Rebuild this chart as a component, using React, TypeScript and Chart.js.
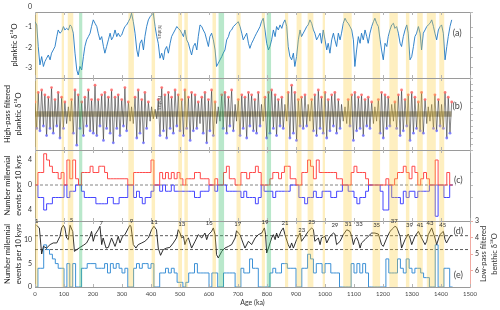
import React, { useEffect, useRef } from 'react';
import Chart from 'chart.js/auto';

const FONT = 'Lato, "Open Sans", "DejaVu Sans", sans-serif';

// ---------- Panel (a): planktic d18O, and panel (b) high-pass (same age grid) ----------
const planktAges = [
  0, 6, 11, 17, 23, 29, 34, 40, 46, 52,
  57, 63, 69, 75, 80, 86, 92, 98, 103, 109,
  115, 121, 126, 132, 138, 144, 149, 155, 161, 167,
  172, 178, 184, 190, 195, 201, 207, 213, 218, 224,
  230, 236, 241, 247, 253, 259, 264, 270, 276, 282,
  287, 293, 299, 305, 310, 316, 322, 328, 333, 339,
  345, 351, 356, 362, 368, 374, 379, 385, 391, 397,
  402, 408, 414, 420, 425, 431, 437, 443, 448, 454,
  460, 466, 471, 477, 483, 489, 494, 500, 506, 512,
  517, 523, 529, 535, 540, 546, 552, 558, 563, 569,
  575, 580, 586, 592, 598, 603, 609, 615, 621, 626,
  632, 638, 644, 649, 655, 661, 667, 672, 678, 684,
  690, 695, 701, 707, 713, 718, 724, 730, 736, 741,
  747, 753, 758, 764, 770, 776, 781, 787, 793, 799,
  805, 810, 816, 822, 828, 833, 839, 845, 851, 856,
  862, 868, 873, 879, 885, 891, 896, 902, 908, 914,
  919, 925, 931, 937, 942, 948, 954, 960, 965, 971,
  977, 983, 988, 994, 1000, 1006, 1011, 1017, 1023, 1029,
  1034, 1040, 1046, 1052, 1057, 1063, 1069, 1075, 1080, 1086,
  1092, 1098, 1103, 1109, 1115, 1121, 1126, 1132, 1138, 1144,
  1149, 1155, 1161, 1167, 1172, 1178, 1184, 1190, 1195, 1201,
  1207, 1213, 1218, 1224, 1230, 1236, 1241, 1247, 1253, 1259,
  1264, 1270, 1276, 1282, 1287, 1293, 1299, 1305, 1310, 1316,
  1322, 1328, 1333, 1339, 1345, 1351, 1356, 1362, 1368, 1374,
  1379, 1385, 1391, 1397, 1402, 1408, 1414, 1420, 1425, 1431,
  1437,
];

const planktValues = [
  -0.73, -0.89, -1.96, -2.87, -2.46, -2.95, -2.71, -2.54, -2.38, -2.62,
  -2.29, -2.13, -1.96, -1.47, -1.14, -1.30, -1.22, -0.97, -1.14, -1.06,
  -1.14, -0.89, -0.97, -1.30, -2.29, -3.12, -3.37, -2.95, -3.12, -2.46,
  -1.96, -1.63, -1.47, -1.30, -0.97, -0.64, -0.81, -0.97, -1.30, -1.63,
  -1.47, -1.96, -2.29, -1.96, -1.63, -1.30, -1.63, -1.47, -1.14, -1.47,
  -1.30, -1.47, -1.39, -1.14, -0.97, -0.89, -0.73, -0.56, -0.31, -0.73,
  -1.30, -2.13, -2.46, -1.80, -1.63, -2.13, -1.47, -0.97, -0.64, -0.48,
  -0.40, -0.31, -0.97, -1.47, -1.80, -2.54, -2.29, -2.62, -2.13, -1.96,
  -2.29, -1.80, -1.47, -1.30, -1.14, -0.97, -1.06, -1.14, -1.30, -1.47,
  -1.14, -1.63, -1.80, -2.13, -2.38, -1.96, -1.80, -2.13, -1.47, -0.89,
  -0.97, -1.14, -1.30, -1.63, -1.96, -1.47, -1.30, -1.63, -2.13, -2.95,
  -2.79, -2.62, -2.46, -2.29, -2.13, -1.63, -1.47, -1.22, -1.14, -0.97,
  -0.89, -0.81, -0.73, -0.97, -1.30, -1.63, -1.47, -1.30, -1.80, -2.05,
  -1.80, -1.63, -1.47, -1.30, -1.14, -0.97, -0.73, -0.56, -1.14, -1.80,
  -2.13, -1.96, -1.63, -1.14, -1.47, -0.97, -1.14, -0.89, -1.06, -0.81,
  -0.64, -0.97, -1.96, -2.46, -2.62, -2.29, -2.95, -2.46, -1.63, -1.14,
  -1.47, -1.30, -1.14, -0.97, -0.89, -0.64, -0.81, -1.14, -1.30, -1.63,
  -1.47, -1.30, -1.80, -1.14, -1.63, -2.13, -1.80, -2.29, -1.63, -1.30,
  -1.63, -1.96, -1.30, -1.63, -1.30, -0.81, -0.56, -0.73, -0.81, -0.97,
  -1.14, -1.63, -2.95, -2.13, -1.47, -1.80, -1.30, -1.63, -1.14, -1.47,
  -1.80, -1.30, -0.97, -0.73, -0.56, -0.81, -0.97, -1.63, -2.13, -2.62,
  -1.80, -1.96, -1.47, -1.14, -0.89, -0.81, -1.06, -0.97, -1.30, -1.80,
  -1.96, -1.47, -1.14, -0.89, -1.30, -2.62, -2.46, -1.96, -1.47, -1.30,
  -0.97, -1.30, -2.13, -1.30, -1.14, -0.97, -0.89, -0.81, -0.64, -0.97,
  -1.30, -1.63, -1.14, -0.97, -0.89, -1.30, -2.62, -1.96, -1.47, -0.97,
  -0.64,
];

const hpValues = [
  0.5, -0.6, 0.9, -0.7, 1.0, -0.5, 0.8, -0.9, 0.7, -0.6,
  1.1, -0.8, 0.6, -0.5, 0.9, -1.0, 0.7, -0.6, 0.5, -0.4,
  0.3, -0.3, 0.6, -0.8, 1.0, -1.3, 0.8, -0.6, 0.5, -0.9,
  0.7, -0.5, 1.0, -0.7, 0.6, -0.8, 1.2, -0.9, 0.6, -0.5,
  0.8, -1.1, 0.9, -0.6, 0.7, -0.8, 1.0, -1.2, 0.7, -0.6,
  0.8, -0.9, 0.6, -0.5, 1.1, -0.7, 0.5, -0.3, 0.3, -0.4,
  0.7, -1.0, 1.0, -0.8, 0.6, -1.2, 0.9, -0.6, 0.5, -0.3,
  0.3, -0.2, 0.2, -0.2, 0.6, -0.9, 1.1, -0.7, 0.8, -1.0,
  0.9, -0.6, 0.7, -0.8, 1.0, -0.5, 0.8, -0.7, 0.6, -0.9,
  1.0, -0.6, 0.7, -1.1, 0.9, -0.7, 0.8, -0.6, 0.5, -0.4,
  0.7, -0.8, 0.9, -1.2, 0.6, -0.7, 1.0, -0.9, 0.5, -0.4,
  0.3, -0.3, 0.8, -0.6, 0.9, -0.8, 0.7, -0.5, 1.0, -0.7,
  0.4, -0.3, 0.6, -0.9, 0.8, -0.6, 0.7, -1.0, 0.9, -0.5,
  0.8, -0.7, 0.6, -0.8, 0.9, -0.5, 0.4, -0.3, 0.7, -1.0,
  0.9, -0.8, 1.0, -0.6, 0.8, -0.9, 0.6, -0.5, 0.7, -0.6,
  0.4, -0.3, 0.9, -1.0, 1.2, -0.8, 0.9, -1.1, 0.6, -0.5,
  0.7, -0.6, 0.8, -0.5, 0.4, -0.3, 0.6, -0.7, 0.8, -0.9,
  1.0, -0.6, 0.7, -0.8, 0.9, -1.0, 0.6, -0.7, 0.8, -0.5,
  0.9, -0.8, 0.6, -0.6, 0.4, -0.3, 0.3, -0.4, 0.6, -0.5,
  0.8, -1.1, 0.9, -0.7, 0.7, -0.6, 0.8, -0.9, 0.6, -0.5,
  0.7, -0.6, 0.5, -0.4, 0.3, -0.3, 0.6, -0.8, 0.9, -1.0,
  0.8, -0.6, 0.7, -0.5, 0.4, -0.3, 0.5, -0.6, 0.8, -0.9,
  1.0, -0.7, 0.6, -0.5, 0.8, -1.1, 0.9, -0.8, 0.7, -0.6,
  0.5, -0.7, 0.9, -0.8, 0.6, -0.4, 0.3, -0.3, 0.4, -0.6,
  0.8, -0.7, 0.6, -0.5, 0.4, -0.6, 0.9, -1.0, 0.7, -0.8,
  0.5,
];
const hpEventThreshold = 0.5;
const hpNoiseBandEdges = [0.11, -0.11];
const hpBandAges = [0, 1437];

// ---------- Panels (c) and (e): counts per 10-kyr bin ----------
const binAges = [
  0, 10, 20, 30, 40, 50, 60, 70, 80, 90,
  100, 110, 120, 130, 140, 150, 160, 170, 180, 190,
  200, 210, 220, 230, 240, 250, 260, 270, 280, 290,
  300, 310, 320, 330, 340, 350, 360, 370, 380, 390,
  400, 410, 420, 430, 440, 450, 460, 470, 480, 490,
  500, 510, 520, 530, 540, 550, 560, 570, 580, 590,
  600, 610, 620, 630, 640, 650, 660, 670, 680, 690,
  700, 710, 720, 730, 740, 750, 760, 770, 780, 790,
  800, 810, 820, 830, 840, 850, 860, 870, 880, 890,
  900, 910, 920, 930, 940, 950, 960, 970, 980, 990,
  1000, 1010, 1020, 1030, 1040, 1050, 1060, 1070, 1080, 1090,
  1100, 1110, 1120, 1130, 1140, 1150, 1160, 1170, 1180, 1190,
  1200, 1210, 1220, 1230, 1240, 1250, 1260, 1270, 1280, 1290,
  1300, 1310, 1320, 1330, 1340, 1350, 1360, 1370, 1380, 1390,
  1400, 1410, 1420, 1430,
];
const binEnd = 1440;

const warmEvents = [
  0, 2, 2, 5, 4, 3, 2, 2, 1, 2,
  0, 4, 1, 4, 1, 0, 2, 2, 2, 3,
  2, 2, 3, 3, 2, 1, 1, 1, 1, 1,
  1, 1, 0, 0, 2, 2, 2, 2, 2, 2,
  4, 0, 0, 2, 1, 2, 1, 2, 1, 2,
  1, 0, 1, 1, 1, 2, 2, 1, 1, 1,
  0, 0, 1, 0, 0, 2, 3, 1, 1, 0,
  0, 2, 2, 1, 2, 2, 3, 2, 0, 0,
  0, 1, 2, 2, 1, 2, 3, 3, 1, 1,
  0, 0, 2, 2, 4, 3, 1, 4, 2, 2,
  2, 2, 2, 2, 1, 1, 0, 0, 0, 2,
  3, 2, 2, 2, 1, 0, 0, 0, 0, 0,
  0, 1, 0, 0, 1, 2, 2, 3, 2, 1,
  3, 2, 0, 1, 2, 1, 0, 0, 4, 0,
  0, 0, 2, 0,
];

const coldEvents = [
  0, -2, -2, -4, -3, -3, -2, -2, -2, -2,
  0, -2, -1, -1, 0, 0, -1, -2, -2, -2,
  -2, -3, -3, -3, -3, -2, -2, -3, -3, -2,
  -2, -2, 0, 0, -2, -1, -2, -3, -2, -2,
  -1, 0, 0, -1, 0, -1, -1, 0, -1, -1,
  -1, -1, -1, -1, -1, -2, -2, -1, -1, -1,
  0, 0, -1, 0, 0, 0, -1, -1, -1, -1,
  -1, -2, -1, -2, -2, -2, -3, -2, 0, -1,
  -1, -1, -2, -1, -1, -1, -1, -1, 0, 0,
  0, -2, -2, -3, -2, -2, -1, -2, -2, -1,
  -1, -1, -2, -2, -1, -1, 0, 0, -1, -1,
  -2, -3, -2, -2, -1, 0, 0, 0, 0, -1,
  -4, -4, 0, -2, -2, -2, -3, -1, -2, -1,
  -1, -2, -1, -1, -1, -1, 0, 0, -5, 0,
  0, -2, -2, 0,
];

const totalEvents = [
  0, 4, 4, 9, 8, 7, 6, 5, 4, 4,
  0, 5, 0, 5, 0, 0, 4, 4, 5, 5,
  5, 4, 4, 4, 5, 3, 5, 4, 5, 4,
  3, 4, 0, 0, 4, 5, 4, 5, 5, 4,
  5, 0, 0, 3, 3, 4, 3, 4, 3, 1,
  1, 0, 1, 3, 3, 5, 3, 3, 3, 3,
  0, 3, 3, 0, 0, 3, 3, 3, 3, 0,
  0, 4, 3, 3, 6, 4, 4, 0, 0, 0,
  0, 3, 4, 3, 3, 5, 5, 4, 4, 4,
  0, 0, 4, 4, 7, 6, 3, 5, 5, 3,
  5, 5, 3, 3, 3, 0, 0, 0, 0, 5,
  3, 5, 3, 5, 3, 0, 0, 0, 0, 0,
  0, 6, 3, 3, 3, 6, 4, 3, 6, 4,
  3, 4, 4, 3, 2, 2, 0, 0, 9, 0,
  0, 4, 4, 0,
];

// ---------- Panel (d): low-pass filtered benthic d18O ----------
const benthicAges = [
  5, 15, 23, 29, 40, 52, 63, 75, 86, 92,
  98, 103, 109, 115, 121, 130, 136, 144, 155, 167,
  178, 190, 195, 201, 207, 218, 224, 230, 235, 245,
  253, 264, 276, 282, 287, 293, 302, 310, 322, 327,
  331, 339, 348, 356, 368, 379, 391, 402, 410, 419,
  425, 433, 442, 454, 465, 477, 488, 494, 500, 506,
  512, 517, 523, 529, 540, 552, 563, 575, 586, 592,
  598, 609, 615, 621, 626, 632, 644, 655, 667, 678,
  690, 695, 701, 707, 713, 724, 736, 747, 759, 770,
  782, 791, 795, 799, 805, 816, 822, 828, 833, 839,
  848, 856, 862, 873, 879, 885, 891, 902, 914, 919,
  931, 942, 954, 960, 965, 977, 983, 988, 1000, 1006,
  1017, 1029, 1034, 1040, 1052, 1063, 1075, 1086, 1092, 1098,
  1103, 1109, 1115, 1121, 1126, 1138, 1149, 1161, 1172, 1184,
  1195, 1201, 1213, 1224, 1236, 1241, 1247, 1259, 1264, 1276,
  1287, 1293, 1299, 1310, 1322, 1333, 1345, 1351, 1356, 1368,
  1379, 1385, 1396, 1408, 1414, 1419, 1431, 1437,
];
const benthicValues = [
  3.26, 3.42, 5.00, 4.54, 4.64, 4.43, 4.33, 4.33, 3.93, 3.42,
  3.26, 3.42, 4.03, 4.13, 3.26, 3.63, 4.84, 4.74, 4.60, 4.47,
  4.33, 3.93, 3.63, 4.23, 3.83, 3.53, 3.32, 4.43, 4.03, 4.64,
  4.60, 4.03, 4.54, 4.23, 3.93, 4.33, 3.93, 3.83, 3.42, 3.26,
  3.32, 4.43, 4.64, 4.43, 4.33, 4.23, 4.03, 3.53, 3.32, 3.53,
  4.64, 5.08, 4.74, 4.64, 4.60, 4.33, 4.03, 3.53, 3.73, 4.03,
  3.93, 4.43, 4.13, 4.03, 4.64, 4.23, 3.83, 4.03, 3.73, 4.13,
  3.83, 3.63, 3.42, 3.83, 5.04, 5.24, 4.84, 4.64, 4.54, 4.43,
  4.03, 3.59, 3.73, 3.83, 4.13, 4.64, 4.23, 4.43, 4.03, 3.83,
  3.73, 3.42, 3.83, 4.94, 4.64, 4.03, 3.83, 4.13, 3.73, 4.03,
  3.63, 3.42, 3.83, 4.43, 4.64, 4.33, 4.64, 4.13, 3.73, 4.23,
  3.93, 3.63, 3.42, 3.53, 4.23, 4.03, 4.43, 4.03, 3.93, 4.33,
  3.93, 3.73, 3.79, 4.43, 4.23, 3.83, 3.53, 3.63, 3.93, 4.43,
  4.13, 3.99, 4.23, 4.64, 4.33, 4.13, 3.93, 3.73, 3.73, 3.79,
  4.43, 4.54, 4.03, 3.63, 3.42, 3.32, 3.38, 3.93, 4.64, 4.13,
  3.79, 4.03, 4.43, 3.93, 3.63, 4.03, 4.43, 4.23, 3.83, 3.42,
  4.03, 4.43, 3.83, 3.63, 4.13, 4.33, 3.93, 3.87,
];
const benthicThresholds = [3.89, 4.73];
const thresholdAges = [0, 1500];

const misLabels = ['1', '5', '7', '9', '11', '13', '15', '17', '19', '21', '23', '25', '29', '31', '33', '35', '37', '39', '41', '43', '45'];
const misAges = [6, 126, 228, 333, 411, 506, 601, 699, 793, 862, 920, 954, 1034, 1080, 1118, 1178, 1239, 1291, 1328, 1362, 1406];
const misLevels = [2.98, 2.94, 3.10, 3.0, 3.08, 3.18, 3.14, 3.18, 3.04, 3.10, 3.55, 3.04, 3.24, 3.18, 3.18, 3.24, 3.0, 3.24, 3.24, 3.10, 3.24];

// ---------- Shaded intervals ----------
const yellowStart = [0, 92, 113, 322, 402, 494, 515, 612, 695, 782, 862, 902, 940, 992, 1063, 1164, 1222, 1279, 1318, 1351, 1394];
const yellowEnd = [10, 100, 132, 341, 414, 507, 527, 624, 709, 793, 873, 919, 960, 1000, 1092, 1190, 1251, 1291, 1337, 1382, 1411];
const greenStart = [152, 633, 799];
const greenEnd = [163, 652, 814];

// ---------- Ticks and labels ----------
const xTicks = [0, 100, 200, 300, 400, 500, 600, 700, 800, 900, 1000, 1100, 1200, 1300, 1400, 1500];
const aTicks = [0, -1, -2, -3];
const cTicks = [-4, 0, 4];
const eTicks = [0, 5, 10];
const dTicks = [3, 4, 5, 6];
const panelLabels = ['(a)', '(b)', '(c)', '(d)', '(e)'];
const panelLabelAxes = ['yA', 'yB', 'yC', 'yD', 'yE'];
const panelLabelAges = [1456, 1456, 1460, 1460, 1460];
const panelLabelValues = [-1.3, 0.33, 0.8, 3.6, 2.5];
const hiatusAge = 431;
const hiatusA = -1.24;
const hiatusB = 0.46;

const pts = (xs: number[], ys: number[]) => xs.map((x, i) => ({ x, y: ys[i] }));
const stepPts = (xs: number[], ys: number[], end: number) => [...pts(xs, ys), { x: end, y: ys[ys.length - 1] }];

const GRID_BORDER = '#9a9a9a';

const overlay = {
  id: 'overlay',
  afterDatasetsDraw(chart: any) {
    const { ctx, chartArea: ca, scales } = chart;
    const xs = scales.x;
    ctx.save();
    const band = (s: number, e: number, color: string) => {
      const x0 = xs.getPixelForValue(s);
      const x1 = xs.getPixelForValue(e);
      ctx.fillStyle = color;
      ctx.fillRect(x0, ca.top, x1 - x0, ca.bottom - ca.top);
    };
    yellowStart.forEach((s, i) => band(s, yellowEnd[i], 'rgba(253,205,60,0.32)'));
    greenStart.forEach((s, i) => band(s, greenEnd[i], 'rgba(60,190,110,0.36)'));
    ctx.restore();
  },
  afterDraw(chart: any) {
    const { ctx, chartArea: ca, scales } = chart;
    const xs = scales.x;
    ctx.save();
    ctx.lineWidth = 1;
    ctx.strokeStyle = GRID_BORDER;
    const hline = (y: number) => {
      const yy = Math.round(y) + 0.5;
      ctx.beginPath();
      ctx.moveTo(ca.left, yy);
      ctx.lineTo(ca.right, yy);
      ctx.stroke();
    };
    hline(ca.top);
    hline(scales.yA.bottom);
    hline(scales.yB.bottom);
    hline(scales.yC.bottom);

    // inward x tick marks on every panel edge
    ctx.strokeStyle = '#b5b5b5';
    const edges = [ca.top, scales.yA.bottom, scales.yB.bottom, scales.yC.bottom, ca.bottom];
    xTicks.forEach((v) => {
      const px = Math.round(xs.getPixelForValue(v)) + 0.5;
      edges.forEach((ey: number, j: number) => {
        if (j < edges.length - 1) {
          ctx.beginPath();
          ctx.moveTo(px, ey);
          ctx.lineTo(px, ey + 3);
          ctx.stroke();
        }
        if (j > 0) {
          ctx.beginPath();
          ctx.moveTo(px, ey);
          ctx.lineTo(px, ey - 3);
          ctx.stroke();
        }
      });
    });

    // panel labels
    ctx.fillStyle = '#444';
    ctx.font = `9px ${FONT}`;
    ctx.textAlign = 'center';
    ctx.textBaseline = 'middle';
    panelLabels.forEach((t, i) => {
      const sc = scales[panelLabelAxes[i]];
      ctx.fillText(t, xs.getPixelForValue(panelLabelAges[i]), sc.getPixelForValue(panelLabelValues[i]));
    });

    // MIS labels in panel (d)
    ctx.fillStyle = '#333';
    ctx.font = `6px ${FONT}`;
    misLabels.forEach((t, i) => {
      ctx.fillText(t, xs.getPixelForValue(misAges[i]), scales.yD.getPixelForValue(misLevels[i]));
    });

    // hiatus notes
    ctx.fillStyle = '#555';
    ctx.font = `5px ${FONT}`;
    const hx = xs.getPixelForValue(hiatusAge);
    [
      [scales.yA, hiatusA],
      [scales.yB, hiatusB],
    ].forEach(([sc, v]: any) => {
      ctx.save();
      ctx.translate(hx, sc.getPixelForValue(v));
      ctx.rotate(Math.PI / 2);
      ctx.fillText('hiatus', 0, 0);
      ctx.restore();
    });

    // right axis title for panel (d)
    ctx.fillStyle = '#333';
    ctx.font = `7.5px ${FONT}`;
    const cy = (scales.yD.top + scales.yD.bottom) / 2;
    ctx.translate(484, cy);
    ctx.rotate(-Math.PI / 2);
    ctx.fillText('Low-pass filtered', 0, 0);
    ctx.fillText('benthic δ¹⁸O', 0, 10.5);
    ctx.restore();
  },
};

const tickFont = { size: 7, family: FONT };
const titleFont = { size: 7.5, family: FONT, lineHeight: 1.45 };

export default function App() {
  const ref = useRef<HTMLCanvasElement>(null);
  useEffect(() => {
    const canvas = ref.current;
    if (!canvas) return;
    Chart.defaults.font.family = FONT;

    const hpPts = pts(planktAges, hpValues);
    const warmDots = hpPts.filter((p) => p.y >= hpEventThreshold);
    const coldDots = hpPts.filter((p) => p.y <= -hpEventThreshold);

    const rightMinor = (min: number, max: number, step: number, weight: number, stackWeight: number) => ({
      type: 'linear',
      position: 'right',
      stack: 'right',
      stackWeight,
      weight,
      min,
      max,
      ticks: { display: false, stepSize: step },
      grid: { display: true, drawOnChartArea: false, drawTicks: true, tickLength: 3, color: '#bdbdbd' },
      border: { color: GRID_BORDER },
      afterFit: (s: any) => {
        s.width = 30;
      },
    });

    const chart = new Chart(canvas, {
      type: 'line',
      data: {
        datasets: [
          {
            label: 'planktic',
            data: pts(planktAges, planktValues),
            yAxisID: 'yA',
            borderColor: '#1f78c4',
            borderWidth: 0.9,
            pointRadius: 0,
            order: 5,
          },
          {
            label: 'hp band top',
            data: pts(hpBandAges, [hpNoiseBandEdges[0], hpNoiseBandEdges[0]]),
            yAxisID: 'yB',
            borderWidth: 0,
            pointRadius: 0,
            order: 20,
          },
          {
            label: 'hp band bottom',
            data: pts(hpBandAges, [hpNoiseBandEdges[1], hpNoiseBandEdges[1]]),
            yAxisID: 'yB',
            borderWidth: 0,
            pointRadius: 0,
            fill: '-1',
            backgroundColor: 'rgba(110,92,20,0.45)',
            order: 19,
          },
          {
            label: 'high-pass',
            data: hpPts,
            yAxisID: 'yB',
            borderColor: 'rgba(40,40,40,0.7)',
            borderWidth: 0.8,
            pointRadius: 0,
            order: 10,
          },
          {
            label: 'warm events',
            data: warmDots,
            yAxisID: 'yB',
            showLine: false,
            pointRadius: 1.4,
            pointBorderWidth: 0,
            pointBackgroundColor: 'rgba(255,110,110,0.9)',
            order: 2,
          },
          {
            label: 'cold events',
            data: coldDots,
            yAxisID: 'yB',
            showLine: false,
            pointRadius: 1.4,
            pointBorderWidth: 0,
            pointBackgroundColor: 'rgba(120,120,255,0.9)',
            order: 2,
          },
          {
            label: 'zero c',
            data: pts([0, 1450], [0, 0]),
            yAxisID: 'yC',
            borderColor: '#666',
            borderWidth: 0.8,
            borderDash: [3, 2],
            pointRadius: 0,
            order: 12,
          },
          {
            label: 'warm counts',
            data: stepPts(binAges, warmEvents, binEnd),
            yAxisID: 'yC',
            stepped: true,
            borderColor: '#ff4a4a',
            borderWidth: 1,
            pointRadius: 0,
            order: 4,
          },
          {
            label: 'cold counts',
            data: stepPts(binAges, coldEvents, binEnd),
            yAxisID: 'yC',
            stepped: true,
            borderColor: '#4646ff',
            borderWidth: 1,
            pointRadius: 0,
            order: 4,
          },
          {
            label: 'threshold 1',
            data: pts(thresholdAges, [benthicThresholds[0], benthicThresholds[0]]),
            yAxisID: 'yD',
            borderColor: '#333',
            borderWidth: 0.8,
            borderDash: [3, 2],
            pointRadius: 0,
            order: 12,
          },
          {
            label: 'threshold 2',
            data: pts(thresholdAges, [benthicThresholds[1], benthicThresholds[1]]),
            yAxisID: 'yD',
            borderColor: '#333',
            borderWidth: 0.8,
            borderDash: [3, 2],
            pointRadius: 0,
            order: 12,
          },
          {
            label: 'benthic',
            data: pts(benthicAges, benthicValues),
            yAxisID: 'yD',
            borderColor: '#1a1a1a',
            borderWidth: 0.9,
            pointRadius: 0,
            order: 3,
          },
          {
            label: 'total counts',
            data: stepPts(binAges, totalEvents, binEnd),
            yAxisID: 'yE',
            stepped: true,
            borderColor: '#3d91d6',
            borderWidth: 1,
            pointRadius: 0,
            order: 4,
          },
        ],
      },
      options: {
        animation: false,
        responsive: false,
        devicePixelRatio: 1,
        layout: { padding: { top: 12, left: 0, right: 0, bottom: 0 } },
        plugins: { legend: { display: false }, tooltip: { enabled: false } },
        elements: { line: { tension: 0 } },
        scales: {
          x: {
            type: 'linear',
            position: 'bottom',
            min: 0,
            max: 1500,
            afterBuildTicks: (s: any) => {
              s.ticks = xTicks.map((v) => ({ value: v }));
            },
            ticks: { font: { size: 6, family: FONT }, color: '#444', padding: 3, maxRotation: 0, autoSkip: false, callback: (v: any) => String(v) },
            grid: { display: false, drawTicks: false },
            border: { color: GRID_BORDER },
            title: { display: true, text: 'Age (ka)', font: { size: 7, family: FONT }, color: '#333', padding: { top: 0, bottom: 3 } },
            afterFit: (s: any) => {
              s.height = 23;
            },
          },
          yA: {
            type: 'linear',
            position: 'left',
            stack: 'left',
            stackWeight: 66,
            weight: 4,
            min: -3.52,
            max: -0.25,
            afterBuildTicks: (s: any) => {
              s.ticks = aTicks.map((v) => ({ value: v }));
            },
            ticks: { font: tickFont, color: '#333', padding: 3 },
            grid: { display: false, drawTicks: false },
            border: { color: GRID_BORDER },
            title: { display: true, text: 'planktic δ¹⁸O', font: { size: 7.5, family: FONT, lineHeight: 1.2 }, color: '#222', padding: { top: 10.5, bottom: 0 } },
            afterFit: (s: any) => {
              s.width = 35;
            },
          },
          yB: {
            type: 'linear',
            position: 'left',
            stack: 'left',
            stackWeight: 72,
            weight: 3,
            min: -1.5,
            max: 1.5,
            ticks: { display: false },
            grid: { display: false, drawTicks: false },
            border: { color: GRID_BORDER },
            title: { display: true, text: ['High-pass filtered', 'planktic δ¹⁸O'], font: titleFont, color: '#222', padding: { top: 2.5, bottom: 0 } },
            afterFit: (s: any) => {
              s.width = 35;
            },
          },
          yC: {
            type: 'linear',
            position: 'left',
            stack: 'left',
            stackWeight: 71,
            weight: 2,
            min: -5.76,
            max: 5.6,
            afterBuildTicks: (s: any) => {
              s.ticks = cTicks.map((v) => ({ value: v }));
            },
            ticks: { font: tickFont, color: '#333', padding: 3, callback: (v: any) => String(Math.abs(Number(v))) },
            grid: { display: false, drawTicks: false },
            border: { color: GRID_BORDER },
            title: { display: true, text: ['Number millennial', 'events per 10 kyrs'], font: titleFont, color: '#222', padding: { top: 2.5, bottom: 0 } },
            afterFit: (s: any) => {
              s.width = 35;
            },
          },
          yE: {
            type: 'linear',
            position: 'left',
            stack: 'left',
            stackWeight: 66,
            weight: 1,
            min: 0,
            max: 14.1,
            afterBuildTicks: (s: any) => {
              s.ticks = eTicks.map((v) => ({ value: v }));
            },
            ticks: { font: tickFont, color: '#333', padding: 3 },
            grid: { display: false, drawTicks: false },
            border: { color: GRID_BORDER },
            title: { display: true, text: ['Number millennial', 'events per 10 kyrs'], font: titleFont, color: '#222', padding: { top: 2.5, bottom: 0 } },
            afterFit: (s: any) => {
              s.width = 35;
            },
          },
          yAr: rightMinor(-3.52, -0.25, 0.5, 1, 66),
          yBr: rightMinor(-1.5, 1.5, 0.25, 2, 72),
          yCr: rightMinor(-5.76, 5.6, 2, 3, 71),
          yD: {
            type: 'linear',
            position: 'right',
            stack: 'right',
            stackWeight: 66,
            weight: 4,
            min: 3,
            max: 7,
            reverse: true,
            afterBuildTicks: (s: any) => {
              s.ticks = dTicks.map((v) => ({ value: v }));
            },
            ticks: { font: tickFont, color: '#333', padding: 2 },
            grid: { display: true, drawOnChartArea: false, drawTicks: true, tickLength: 3, color: '#f0aaa2' },
            border: { color: '#f0aaa2' },
            afterFit: (s: any) => {
              s.width = 30;
            },
          },
        },
      } as any,
      plugins: [overlay as any],
    });
    return () => chart.destroy();
  }, []);

  return (
    <div style={{ position: 'fixed', left: 0, top: 0, width: 500, height: 310, background: '#fff' }}>
      <canvas ref={ref} width={500} height={310} style={{ width: 500, height: 310, display: 'block' }} />
    </div>
  );
}
